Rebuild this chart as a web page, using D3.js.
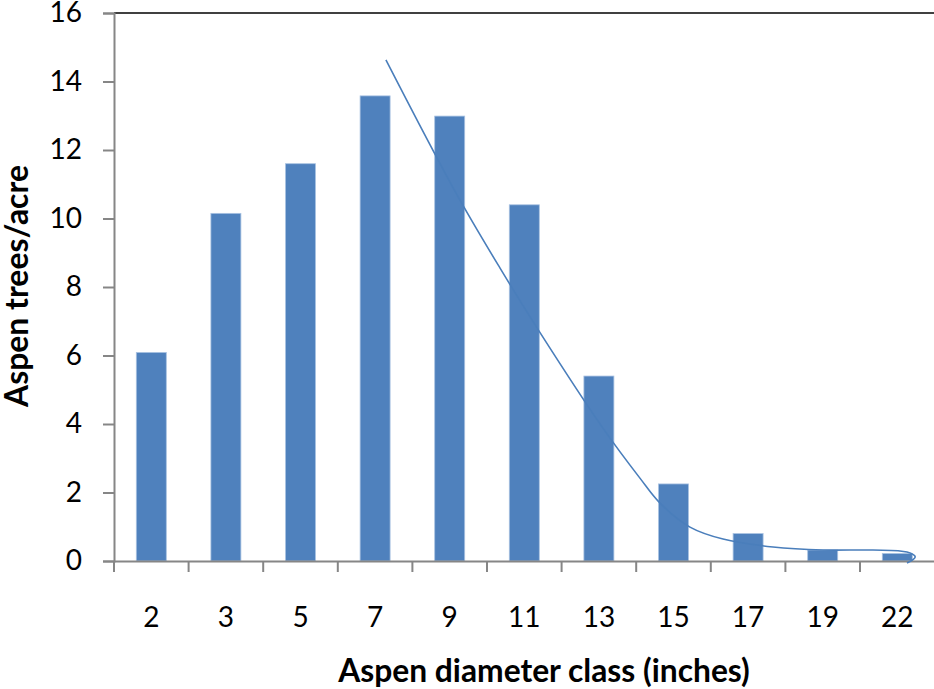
<!DOCTYPE html>
<html>
<head>
<meta charset="utf-8">
<script src="https://cdn.jsdelivr.net/npm/d3@7"></script>
<style>
  html, body { margin: 0; padding: 0; background: #fff; }
  svg { display: block; }
  text { font-family: Lato, "Open Sans", "Liberation Sans", sans-serif; fill: #000; }
</style>
</head>
<body>
<svg id="chart" width="934" height="689"></svg>
<script>
// ---- data ----
const categories = ["2", "3", "5", "7", "9", "11", "13", "15", "17", "19", "22"];
const treesPerAcre = [6.09, 10.15, 11.6, 13.58, 12.99, 10.4, 5.4, 2.25, 0.8, 0.32, 0.22];
const yTicks = [0, 2, 4, 6, 8, 10, 12, 14, 16];
// smoothed trend curve: [category index position, value]
const curveX = [3.145, 4.07, 4.675, 5.196, 6.054, 6.55, 6.819, 7.221, 7.664, 8.334, 9.004, 9.674, 10.13, 10.24, 10.13];
const curveY = [14.63, 10.8, 8.55, 6.72, 3.88, 2.42, 1.69, 0.99, 0.64, 0.41, 0.32, 0.32, 0.26, 0.12, -0.06];
const xTitle = "Aspen diameter class (inches)";
const yTitle = "Aspen trees/acre";

(function () {
// ---- layout ----
const svg = d3.select("#chart");
const pLeft = 114, pRight = 934.6, pTop = 13, pBottom = 561;

const x = d3.scaleBand().domain(categories).range([pLeft, pRight]).padding(0);
const y = d3.scaleLinear().domain([0, 16]).range([pBottom, pTop]);
const xIdx = d3.scaleLinear().domain([0, categories.length - 1])
  .range([x(categories[0]) + x.bandwidth() / 2, x(categories[categories.length - 1]) + x.bandwidth() / 2]);
const barW = 30;

// top border line
svg.append("line")
  .attr("x1", pLeft).attr("x2", 934).attr("y1", y(16)).attr("y2", y(16))
  .attr("stroke", "#404040").attr("stroke-width", 2);

// bars
svg.append("g").selectAll("rect").data(treesPerAcre).join("rect")
  .attr("x", (d, i) => x(categories[i]) + x.bandwidth() / 2 - barW / 2)
  .attr("y", d => y(d))
  .attr("width", barW)
  .attr("height", d => y(0) - y(d))
  .attr("fill", "#4F81BD")
  .attr("stroke", "#A9C2E2")
  .attr("stroke-width", 0.8);

// y axis
const yAxis = svg.append("g").attr("transform", `translate(${pLeft},0)`)
  .call(d3.axisLeft(y).tickValues(yTicks).tickSize(11).tickPadding(21).tickFormat(d3.format("d")));
yAxis.select(".domain").attr("stroke", "#868686").attr("stroke-width", 2);
yAxis.selectAll(".tick line").attr("stroke", "#868686").attr("stroke-width", 2);
yAxis.selectAll(".tick text").attr("font-size", 28).attr("font-family", "Lato, 'Open Sans', sans-serif").attr("fill", "#000");

// x axis
const xAxis = svg.append("g").attr("transform", `translate(0,${pBottom})`)
  .call(d3.axisBottom(x).tickSize(0).tickPadding(46));
xAxis.select(".domain").attr("stroke", "#868686").attr("stroke-width", 2);
xAxis.selectAll(".tick text").attr("font-size", 28).attr("font-family", "Lato, 'Open Sans', sans-serif").attr("fill", "#000");
// boundary ticks between categories
svg.append("g").selectAll("line").data(categories).join("line")
  .attr("x1", d => x(d)).attr("x2", d => x(d))
  .attr("y1", pBottom).attr("y2", pBottom + 11)
  .attr("stroke", "#868686").attr("stroke-width", 2);

// trend curve
const pts = curveX.map((v, i) => [xIdx(v), y(curveY[i])]);
svg.append("path")
  .attr("d", d3.line().curve(d3.curveCatmullRom.alpha(0.5))(pts))
  .attr("fill", "none")
  .attr("stroke", "#4A7EBB")
  .attr("stroke-width", 1.6);

// axis titles
function fitText(sel, target) {
  const w = sel.node().getComputedTextLength();
  const fs = parseFloat(sel.attr("font-size"));
  sel.attr("font-size", fs * target / w);
}
const xt = svg.append("text")
  .attr("x", 544).attr("y", 682)
  .attr("text-anchor", "middle")
  .attr("font-weight", "bold").attr("font-size", 26)
  .text(xTitle);
fitText(xt, 412);

const yt = svg.append("text")
  .attr("transform", "translate(28,286) rotate(-90)")
  .attr("text-anchor", "middle")
  .attr("font-weight", "bold").attr("font-size", 26)
  .text(yTitle);
fitText(yt, 242);
})();
</script>
</body>
</html>
